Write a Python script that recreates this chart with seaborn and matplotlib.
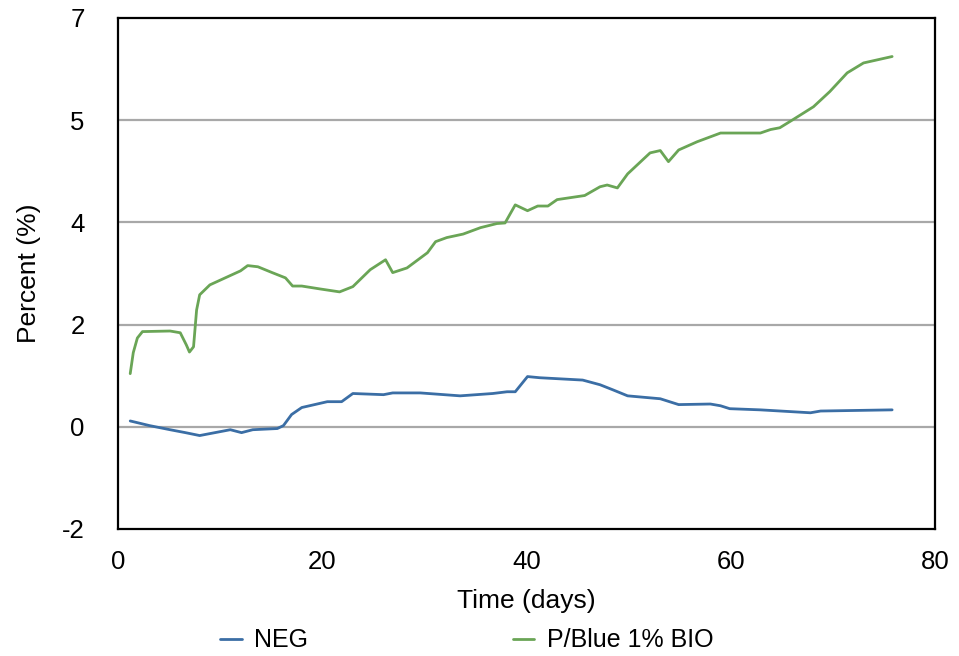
import pandas as pd
import matplotlib
matplotlib.use("Agg")
import matplotlib.pyplot as plt
import seaborn as sns

neg_days = [1.2, 3.1, 5.1, 6.6, 8.0, 11.0, 12.1, 13.2, 15.6, 16.2, 17.0, 18.0,
            20.5, 21.9, 23.0, 26.0, 26.9, 29.6, 33.5, 36.7, 38.1, 38.9, 40.1,
            41.3, 45.5, 47.2, 48.5, 49.9, 53.1, 54.9, 58.0, 59.0, 59.9, 62.9,
            67.8, 68.8, 75.8]
neg_values = [0.10, 0.02, -0.05, -0.10, -0.15, -0.05, -0.10, -0.05, -0.03, 0.02,
              0.21, 0.33, 0.43, 0.43, 0.57, 0.55, 0.58, 0.58, 0.53, 0.57, 0.60,
              0.60, 0.86, 0.84, 0.80, 0.72, 0.63, 0.53, 0.48, 0.38, 0.39, 0.36,
              0.31, 0.29, 0.24, 0.27, 0.29]

bio_days = [1.2, 1.5, 1.9, 2.4, 5.1, 6.1, 6.7, 7.0, 7.4, 7.7, 8.0, 9.0, 10.5,
            12.0, 12.7, 13.7, 15.1, 16.4, 17.1, 18.0, 19.8, 21.7, 23.0, 24.7,
            26.2, 26.9, 28.3, 30.3, 31.1, 32.2, 33.8, 35.5, 37.1, 37.9, 38.9,
            40.1, 41.1, 42.1, 43.0, 45.7, 47.2, 47.9, 48.9, 49.9, 52.1, 53.1,
            53.9, 54.9, 56.7, 59.0, 62.9, 63.9, 64.8, 66.1, 68.1, 69.7, 71.4,
            73.0, 75.8]
bio_values = [0.91, 1.27, 1.52, 1.63, 1.64, 1.61, 1.40, 1.28, 1.37, 2.00, 2.26,
              2.43, 2.55, 2.67, 2.76, 2.74, 2.64, 2.55, 2.41, 2.41, 2.36, 2.31,
              2.40, 2.69, 2.86, 2.64, 2.72, 2.98, 3.17, 3.24, 3.30, 3.41, 3.48,
              3.49, 3.80, 3.70, 3.78, 3.78, 3.89, 3.96, 4.11, 4.14, 4.09, 4.33,
              4.69, 4.73, 4.54, 4.74, 4.88, 5.03, 5.03, 5.09, 5.12, 5.26, 5.48,
              5.74, 6.06, 6.23, 6.34]

series_names = ["NEG", "P/Blue 1% BIO"]
series_colors = ["#3b6ea5", "#6aa556"]

y_ticks = [-1.75, 0, 1.75, 3.5, 5.25, 7]
y_tick_labels = ["-2", "0", "2", "4", "5", "7"]
x_ticks = [0, 20, 40, 60, 80]

df = pd.concat([
    pd.DataFrame({"day": neg_days, "value": neg_values, "series": series_names[0]}),
    pd.DataFrame({"day": bio_days, "value": bio_values, "series": series_names[1]}),
])

sns.set_style("white")
plt.rcParams["font.family"] = ["Liberation Sans", "DejaVu Sans"]
plt.rcParams["text.color"] = "black"
plt.rcParams["axes.labelcolor"] = "black"
plt.rcParams["xtick.color"] = "black"
plt.rcParams["ytick.color"] = "black"

fig = plt.figure(figsize=(9.59, 6.56), dpi=100)
ax = fig.add_axes([0.123, 0.1936, 0.852, 0.779])

sns.lineplot(data=df, x="day", y="value", hue="series", palette=series_colors,
             hue_order=series_names, linewidth=2, ax=ax, zorder=3)

for y in y_ticks[1:-1]:
    ax.axhline(y, color="#a8a8a8", linewidth=1.6, zorder=1)

ax.set_xlim(0, 80)
ax.set_ylim(-1.75, 7)
ax.set_xticks(x_ticks)
ax.set_yticks(y_ticks)
ax.set_yticklabels(y_tick_labels)
ax.tick_params(axis="both", length=0, labelsize=18.5)
ax.tick_params(axis="y", pad=24)
ax.tick_params(axis="x", pad=15)

for s in ax.spines.values():
    s.set_color("black")
    s.set_linewidth(1.6)

ax.set_xlabel("Time (days)", fontsize=19, labelpad=11)
ax.set_ylabel("Percent (%)", fontsize=19, labelpad=15)

ax.legend(loc="center", bbox_to_anchor=(0.487, 0.024), bbox_transform=fig.transFigure,
          ncol=2, frameon=False, fontsize=18, handlelength=0.85, columnspacing=8.2,
          handletextpad=0.5, borderpad=0)

fig.savefig("out.png", dpi=100)
